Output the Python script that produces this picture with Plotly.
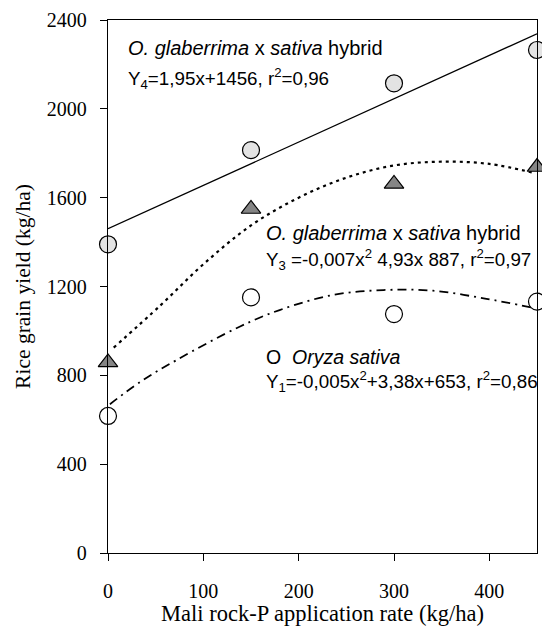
import plotly.graph_objects as go

# ---- data ----
rates = [0, 150, 300, 450]
hybrid4_yield = [1390, 1814, 2115, 2265]      # light grey circles
hybrid3_yield = [858, 1549, 1662, 1738]       # dark grey triangles
sativa_yield = [617, 1151, 1076, 1132]        # white circles

# fitted lines, points
fit4_x = [0, 450]
fit4_y = [1460, 2338]
fit3_x = [6, 55, 100, 150, 200, 250, 300, 350, 400, 446]
fit3_y = [925, 1115, 1300, 1475, 1600, 1690, 1745, 1762, 1752, 1712]
fit1_x = [2, 34, 72, 138, 180, 236, 289, 341, 394, 446]
fit1_y = [670, 771, 869, 1019, 1094, 1162, 1184, 1181, 1147, 1104]

x_ticks = [0, 100, 200, 300, 400]
y_ticks = [0, 400, 800, 1200, 1600, 2000, 2400]

serif = "Liberation Serif, Times New Roman, serif"
sans = "Liberation Sans, Arial, sans-serif"

fig = go.Figure()

fig.add_trace(go.Scatter(x=fit4_x, y=fit4_y, mode="lines",
                         line=dict(color="black", width=1.3), hoverinfo="skip"))
fig.add_trace(go.Scatter(x=fit3_x, y=fit3_y, mode="lines", line_shape="spline",
                         line=dict(color="black", width=2.2, dash="3px,4px"), hoverinfo="skip"))
fig.add_trace(go.Scatter(x=fit1_x, y=fit1_y, mode="lines", line_shape="spline",
                         line=dict(color="black", width=1.8, dash="9px,5px,2px,5px"), hoverinfo="skip"))

fig.add_trace(go.Scatter(x=rates, y=hybrid4_yield, mode="markers", cliponaxis=False,
                         marker=dict(symbol="circle", size=17, color="#e3e3e3",
                                     line=dict(color="black", width=1.2))))
fig.add_trace(go.Scatter(x=rates, y=hybrid3_yield, mode="markers", cliponaxis=False,
                         marker=dict(symbol="triangle-up", size=17, color="#858585",
                                     line=dict(color="black", width=1.2))))
fig.add_trace(go.Scatter(x=rates, y=sativa_yield, mode="markers", cliponaxis=False,
                         marker=dict(symbol="circle", size=17, color="white",
                                     line=dict(color="black", width=1.2))))

texts = [
    (0.041, 0.947, 20, "<i>O. glaberrima</i> x <i>sativa</i> hybrid"),
    (0.041, 0.891, 18.8, "Y<sub>4</sub>=1,95x+1456, r<sup>2</sup>=0,96"),
    (0.363, 0.600, 20, "<i>O. glaberrima</i> x <i>sativa</i> hybrid"),
    (0.363, 0.550, 18.8, "Y<sub>3</sub> =-0,007x<sup>2</sup> 4,93x 887, r<sup>2</sup>=0,97"),
    (0.363, 0.368, 19.5, "O&nbsp; <i>Oryza sativa</i>"),
    (0.363, 0.321, 18.8, "Y<sub>1</sub>=-0,005x<sup>2</sup>+3,38x+653, r<sup>2</sup>=0,86"),
]
for tx, ty, fs, t in texts:
    fig.add_annotation(x=tx, y=ty, xref="paper", yref="paper", text=t,
                       showarrow=False, xanchor="left", yanchor="middle",
                       font=dict(family=sans, size=fs, color="black"))

axis_common = dict(showline=True, linecolor="black", linewidth=1.3, mirror=True,
                   ticks="outside", ticklen=7, tickwidth=1.3, tickcolor="black",
                   showgrid=False, zeroline=False,
                   tickfont=dict(family=serif, size=20, color="black"))

fig.update_xaxes(range=[0, 450], tickvals=x_ticks, ticklabelstandoff=13,
                 title=dict(text="Mali rock-P application rate (kg/ha)",
                            font=dict(family=serif, size=22.5, color="black"), standoff=10),
                 **axis_common)
fig.update_yaxes(range=[0, 2400], tickvals=y_ticks, ticklabelstandoff=9,
                 title=dict(text="Rice grain yield (kg/ha)",
                            font=dict(family=serif, size=21.5, color="black"), standoff=10),
                 **axis_common)

fig.update_layout(width=542, height=626, showlegend=False,
                  paper_bgcolor="white", plot_bgcolor="white",
                  margin=dict(l=108, r=5, t=20, b=73, autoexpand=False))

fig.write_html("out.html", config={"displayModeBar": False},
               post_script="document.body.style.margin='0';")
